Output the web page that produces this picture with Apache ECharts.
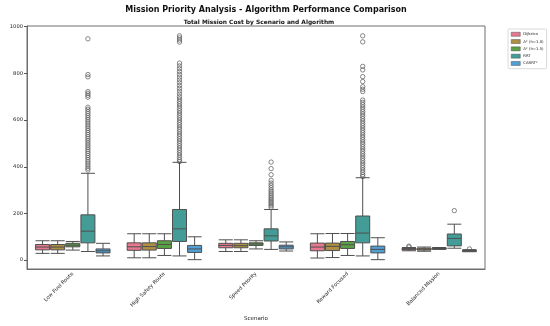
<!DOCTYPE html>
<html><head><meta charset="utf-8">
<script src="https://cdn.jsdelivr.net/npm/echarts@6/dist/echarts.min.js"></script>
<style>html,body{margin:0;padding:0;background:#fff}#c{width:550px;height:326px}</style>
</head><body><div id="c"></div>
<script>
const scenarios = ['Low Fuel Route', 'High Safety Route', 'Speed Priority', 'Reward Focused', 'Balanced Mission'];
const algorithms = ['Dijkstra', 'A* (h=1.0)', 'A* (h=1.5)', 'RRT', 'CARRT*'];
const colors = ['#e6798f', '#ad8f45', '#5aa044', '#439d96', '#509fd5'];
const yTicks = [0, 200, 400, 600, 800, 1000];

// [min, Q1, median, Q3, max] per scenario
const dijkstraBox = [[29,44,56,67,83],[10,42,57,74,113],[37,53,63,72,87],[9,40,56,73,113],[40,44,47,50,54]];
const astar10Box  = [[29,44,56,67,83],[10,43,58,74,113],[37,53,62,72,87],[11,41,59,73,114],[38,43,47,51,56]];
const astar15Box  = [[43,57,64,72,80],[20,50,67,83,113],[48,63,69,74,83],[20,50,66,80,114],[46,48,50,52,54]];
const rrtBox      = [[37,74,124,194,372],[18,80,134,217,419],[46,82,104,134,217],[18,74,116,189,353],[51,61,93,112,154]];
const carrtBox    = [[18,31,40,48,72],[2,33,48,63,100],[39,48,57,64,78],[2,31,46,60,96],[36,38,40,42,45]];

// outliers: [scenarioIndex, value]
const dijkstraOut = [[4,60],[4,56]];
const astar10Out = [];
const astar15Out = [];
const rrtOut = [
  [0,948],[0,795],[0,785],[0,722],[0,714],[0,706],[0,698],[0,655],[0,646],[0,637],[0,628],[0,619],[0,610],[0,601],[0,592],[0,583],[0,574],[0,565],[0,556],[0,547],[0,538],[0,529],[0,520],[0,511],[0,502],[0,493],[0,484],[0,475],[0,466],[0,457],[0,448],[0,439],[0,430],[0,421],[0,412],[0,403],[0,394],[0,386],
  [1,961],[1,952],[1,943],[1,934],[1,844],[1,832],[1,820],[1,808],[1,796],[1,784],[1,772],[1,760],[1,748],[1,736],[1,724],[1,712],[1,700],[1,690],[1,680],[1,670],[1,660],[1,650],[1,640],[1,630],[1,620],[1,610],[1,600],[1,590],[1,580],[1,570],[1,560],[1,550],[1,540],[1,530],[1,520],[1,510],[1,500],[1,490],[1,480],[1,470],[1,460],[1,450],[1,440],[1,430],[1,422],
  [2,420],[2,392],[2,366],[2,342],[2,330],[2,320],[2,310],[2,300],[2,292],[2,284],[2,276],[2,268],[2,261],[2,254],[2,247],[2,240],[2,233],[2,226],
  [3,961],[3,935],[3,830],[3,815],[3,786],[3,765],[3,743],[3,732],[3,722],[3,686],[3,676],[3,666],[3,656],[3,646],[3,636],[3,626],[3,616],[3,606],[3,596],[3,586],[3,576],[3,566],[3,556],[3,546],[3,536],[3,526],[3,516],[3,506],[3,496],[3,486],[3,476],[3,466],[3,456],[3,446],[3,436],[3,426],[3,416],[3,406],[3,396],[3,386],[3,376],[3,366],[3,358],
  [4,212]
];
const carrtOut = [[4,48]];

const boxes = [dijkstraBox, astar10Box, astar15Box, rrtBox, carrtBox];
const outs = [dijkstraOut, astar10Out, astar15Out, rrtOut, carrtOut];

const chart = echarts.init(document.getElementById('c'));
const lineColor = '#4f4f4f';
const n = algorithms.length;

function makeOutlierRender(k) {
  return function (params, api) {
    const band = api.size([1, 0])[0];
    const avail = band * 0.8 - 2;
    const gap = avail / n * 0.3;
    const bw = (avail - gap * (n - 1)) / n;
    const off = bw / 2 - avail / 2 + k * (gap + bw);
    const p = api.coord([api.value(0), api.value(1)]);
    return {
      type: 'circle',
      shape: { cx: p[0] + off, cy: p[1], r: 2.2 },
      style: { fill: 'none', stroke: '#555', lineWidth: 0.7 }
    };
  };
}

const series = [];
algorithms.forEach((name, k) => {
  series.push({
    name: name, type: 'boxplot', data: boxes[k], boxWidth: [14, 14],
    itemStyle: { color: colors[k], borderColor: lineColor, borderWidth: 1 },
    emphasis: { disabled: true }, z: 2
  });
});
algorithms.forEach((name, k) => {
  series.push({
    name: name + ' outliers', type: 'custom', data: outs[k], renderItem: makeOutlierRender(k),
    encode: { x: 0, y: 1 }, z: 3, silent: true
  });
});

chart.setOption({
  animation: false,
  backgroundColor: '#fff',
  title: [
    { text: 'Mission Priority Analysis - Algorithm Performance Comparison', left: 261, top: 1, textAlign: 'center',
      textStyle: { fontFamily: 'DejaVu Sans', fontWeight: 'bold', fontSize: 8, color: '#111' } },
    { text: 'Total Mission Cost by Scenario and Algorithm', left: 254, top: 14, textAlign: 'center',
      textStyle: { fontFamily: 'DejaVu Sans', fontWeight: 'bold', fontSize: 5.9, color: '#111' } }
  ],
  legend: {
    data: algorithms.map((a, k) => ({ name: a, itemStyle: { color: colors[k], borderColor: lineColor, borderWidth: 0.5 } })),
    orient: 'vertical', left: 508, top: 29,
    itemWidth: 9, itemHeight: 4, itemGap: 2.8, padding: [3, 3, 3, 3],
    borderColor: '#d0d0d0', borderWidth: 0.8, borderRadius: 1,
    icon: 'rect',
    textStyle: { fontFamily: 'DejaVu Sans', fontSize: 3.8, color: '#222', padding: [0, 0, 0, -2] }
  },
  grid: { left: 27, right: 65, top: 26, bottom: 57, show: true, borderColor: '#6e6e6e', borderWidth: 1,
    containLabel: false, outerBoundsMode: 'none' },
  xAxis: {
    type: 'category', data: scenarios, boundaryGap: true,
    name: 'Scenario', nameLocation: 'middle', nameGap: 47,
    nameTextStyle: { fontFamily: 'DejaVu Sans', fontSize: 5.5, color: '#222' },
    axisLine: { show: true, onZero: false, lineStyle: { color: '#6e6e6e' } },
    axisTick: { alignWithLabel: true, length: 3, lineStyle: { color: '#555' } },
    axisLabel: { rotate: 45, fontFamily: 'DejaVu Sans', fontSize: 5.2, color: '#222', margin: 4, interval: 0 },
    splitLine: { show: false }
  },
  yAxis: {
    type: 'value', min: -38, max: 1003,
    name: 'Total_Cost', nameLocation: 'middle', nameGap: 21,
    nameTextStyle: { fontFamily: 'DejaVu Sans', fontSize: 5.5, color: '#222' },
    axisLine: { show: true, lineStyle: { color: '#6e6e6e' } },
    axisTick: { show: true, length: 3, customValues: yTicks, lineStyle: { color: '#555' } },
    axisLabel: { customValues: yTicks, formatter: v => String(v), fontFamily: 'DejaVu Sans', fontSize: 5.2, color: '#222', margin: 4 },
    splitLine: { show: false }
  },
  series: series
});
</script></body></html>
